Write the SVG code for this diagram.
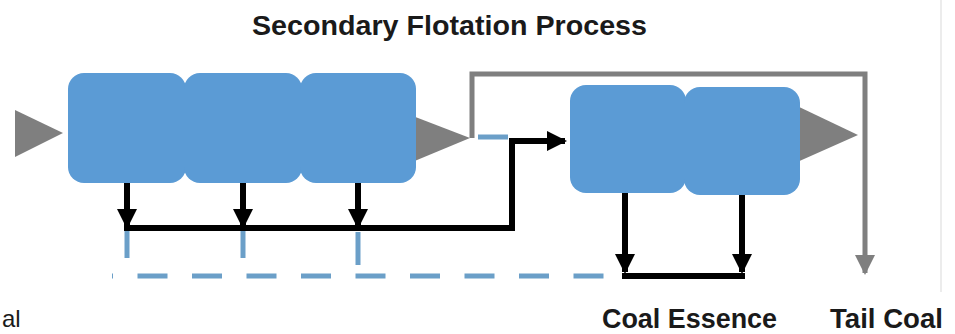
<svg xmlns="http://www.w3.org/2000/svg" width="955" height="334" viewBox="0 0 955 334">
  <defs>
    <style>
      .cell { fill: #5b9bd5; }
      .cone { fill: #7f7f7f; }
      .flow { fill: none; stroke: #000; stroke-width: 6; stroke-linejoin: miter; }
      .tail { fill: none; stroke: #7f7f7f; stroke-width: 5; }
      .recycle { fill: none; stroke: #6b9fc8; stroke-width: 5; }
      .title { font-family: "Liberation Sans", Arial, sans-serif; font-weight: bold; font-size: 28px; fill: #1a1a1a; }
      .label { font-family: "Liberation Sans", Arial, sans-serif; font-weight: bold; font-size: 27px; fill: #1a1a1a; }
      .label-plain { font-family: "Liberation Sans", Arial, sans-serif; font-size: 24px; fill: #1a1a1a; }
    </style>
    <marker id="head-black" viewBox="0 0 10 10" refX="9" refY="5" markerWidth="3.4" markerHeight="3.4" orient="auto" markerUnits="strokeWidth">
      <path d="M0,0 L10,5 L0,10 z" fill="#000"/>
    </marker>
    <marker id="head-gray" viewBox="0 0 10 10" refX="9" refY="5" markerWidth="4" markerHeight="4" orient="auto" markerUnits="strokeWidth">
      <path d="M0,0 L10,5 L0,10 z" fill="#7f7f7f"/>
    </marker>
  </defs>

  <rect width="955" height="334" fill="#fff"/>
  <line x1="941" y1="0" x2="941" y2="292" stroke="#ececec" stroke-width="2"/>

  <!-- title -->
  <g id="title">
    <text class="title" x="252" y="35" textLength="395" lengthAdjust="spacingAndGlyphs">Secondary Flotation Process</text>
  </g>

  <!-- feed inlet -->
  <g id="feed">
    <polygon class="cone" points="15,110 63,133 15,157"/>
  </g>

  <!-- first bank: three flotation cells -->
  <g id="bank1">
    <polygon class="cone" points="405,113 470,138 405,165"/>
    <rect class="cell" x="68" y="73" width="118" height="110" rx="16"/>
    <rect class="cell" x="184" y="73" width="118" height="110" rx="16"/>
    <rect class="cell" x="300" y="73" width="116" height="110" rx="16"/>
  </g>

  <!-- second bank: two flotation cells -->
  <g id="bank2">
    <polygon class="cone" points="795,105 858,135 795,163"/>
    <rect class="cell" x="570" y="85" width="116" height="108" rx="16"/>
    <rect class="cell" x="684" y="87" width="116" height="108" rx="16"/>
  </g>

  <!-- connectors -->
  <g id="connectors">
    <!-- recycle / middlings (dashed blue) -->
    <line class="recycle" x1="478" y1="137" x2="508" y2="137"/>
    <line class="recycle" x1="127" y1="231" x2="127" y2="258"/>
    <line class="recycle" x1="243" y1="231" x2="243" y2="258"/>
    <line class="recycle" x1="358" y1="232" x2="358" y2="265"/>
    <line class="recycle" x1="112" y1="276" x2="604" y2="276" stroke-dasharray="30 24.5" stroke-dashoffset="29"/>

    <!-- froth from first bank -->
    <line class="flow" x1="127" y1="183" x2="127" y2="227" marker-end="url(#head-black)"/>
    <line class="flow" x1="243" y1="183" x2="243" y2="227" marker-end="url(#head-black)"/>
    <line class="flow" x1="358" y1="183" x2="358" y2="227" marker-end="url(#head-black)"/>
    <polyline class="flow" points="124,228 512,228 512,141 565,141" marker-end="url(#head-black)"/>

    <!-- concentrate from second bank -->
    <line class="flow" x1="625" y1="193" x2="625" y2="272" marker-end="url(#head-black)"/>
    <line class="flow" x1="742" y1="195" x2="742" y2="272" marker-end="url(#head-black)"/>
    <line class="flow" x1="622" y1="276" x2="745" y2="276"/>

    <!-- tailings -->
    <polyline class="tail" points="472,138 472,74 865,74 865,273" marker-end="url(#head-gray)"/>
  </g>

  <!-- product labels -->
  <g id="labels">
    <text class="label-plain" x="2" y="327">al</text>
    <text class="label" x="602" y="328" textLength="175" lengthAdjust="spacingAndGlyphs">Coal Essence</text>
    <text class="label" x="830" y="328" textLength="113" lengthAdjust="spacingAndGlyphs">Tail Coal</text>
  </g>
</svg>
